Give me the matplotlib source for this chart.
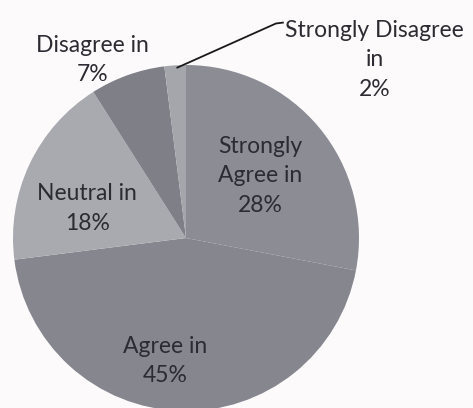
import matplotlib.pyplot as plt

plt.rcParams['font.family'] = ['Lato', 'DejaVu Sans']

# data
labels = ['Strongly Agree', 'Agree', 'Neutral', 'Disagree', 'Strongly Disagree']
values = [28, 45, 18, 7, 2]
colors = ['#8b8c94', '#85868e', '#a9aab0', '#7e7f87', '#a4a6ac']

fig = plt.figure(figsize=(4.73, 4.08), dpi=100)
fig.patch.set_facecolor('#fcfafb')

# pie centred at (186, 238) px with radius 173 px
cx, cy, r = 186, 238, 173
W, H = 473, 408
ax = fig.add_axes([(cx - r) / W, (H - cy - r) / H, 2 * r / W, 2 * r / H])

wedges, _ = ax.pie(values, colors=colors, startangle=90, counterclock=False,
                   radius=1, wedgeprops=dict(linewidth=0))
ax.set_xlim(-1, 1)
ax.set_ylim(-1, 1)
ax.axis('off')
for w in wedges:
    w.set_clip_on(False)

txt = dict(ha='center', va='center', fontsize=16.5, color='#2b2b31',
           linespacing=1.5, clip_on=False)

ax.text(0.43, 0.36, 'Strongly\nAgree in\n28%', **txt)
ax.text(-0.12, -0.71, 'Agree in\n45%', **txt)
ax.text(-0.57, 0.17, 'Neutral in\n18%', **txt)
ax.text(-0.54, 1.03, 'Disagree in\n7%', **txt)
ax.text(1.09, 1.03, 'Strongly Disagree\nin\n2%', **txt)

# leader line for the small slice
ax.plot([-0.05, 0.52, 0.56], [0.985, 1.24, 1.245], color='#1a1a1a',
        linewidth=1.3, clip_on=False)

plt.savefig('out.png', dpi=100, facecolor=fig.get_facecolor())
